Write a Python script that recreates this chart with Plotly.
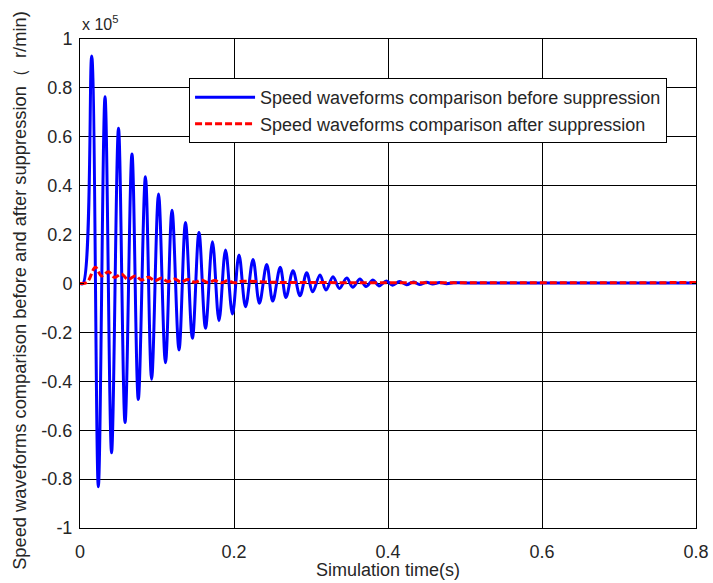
import plotly.graph_objects as go

# Blue: speed before suppression (units of 1e5 r/min) - extrema
blue_t = [0.0, 0.004,
          0.0152, 0.0238, 0.0325, 0.041, 0.050, 0.0585, 0.0675, 0.0757, 0.085, 0.093,
          0.102, 0.111, 0.1195, 0.1286, 0.137, 0.146, 0.1545, 0.163, 0.172, 0.1805,
          0.189, 0.198, 0.2065, 0.215, 0.2247, 0.233, 0.2425, 0.2503, 0.260, 0.2675,
          0.2766, 0.2857, 0.2944, 0.3022, 0.3117, 0.3195, 0.3286, 0.3368, 0.3464, 0.3542,
          0.3636, 0.3714, 0.3805, 0.3883, 0.398, 0.406, 0.415, 0.424, 0.433, 0.441,
          0.450, 0.458, 0.467, 0.476, 0.485, 0.50, 0.55, 0.60, 0.70, 0.80]
blue_v = [0.0, 0.0,
          0.93, -0.831, 0.764, -0.692, 0.635, -0.569, 0.53, -0.474, 0.437, -0.392,
          0.366, -0.324, 0.30, -0.272, 0.249, -0.224, 0.209, -0.183, 0.171, -0.152,
          0.137, -0.125, 0.117, -0.095, 0.098, -0.081, 0.078, -0.072, 0.066, -0.057,
          0.052, -0.05, 0.044, -0.034, 0.035, -0.027, 0.028, -0.02, 0.022, -0.015,
          0.018, -0.012, 0.014, -0.01, 0.01, -0.007, 0.008, -0.005, 0.006, -0.004,
          0.005, -0.002, 0.004, -0.001, 0.003, 0.002, 0.002, 0.002, 0.002, 0.002]

# Red: speed after suppression (units of 1e5 r/min)
red_t = [0.0, 0.009, 0.020, 0.028, 0.037, 0.045, 0.054, 0.062, 0.072, 0.080, 0.089,
         0.097, 0.106, 0.114, 0.123, 0.131, 0.140, 0.149, 0.158, 0.166, 0.175, 0.183,
         0.192, 0.201, 0.210, 0.25, 0.30, 0.40, 0.50, 0.60, 0.70, 0.80]
red_v = [0.0, 0.004, 0.066, 0.031, 0.048, 0.025, 0.039, 0.017, 0.031, 0.014, 0.026,
         0.011, 0.022, 0.008, 0.018, 0.006, 0.016, 0.005, 0.014, 0.004, 0.012, 0.003,
         0.011, 0.003, 0.009, 0.005, 0.004, 0.003, 0.003, 0.003, 0.003, 0.004]

x_ticks = [0, 0.2, 0.4, 0.6, 0.8]
x_labels = ["0", "0.2", "0.4", "0.6", "0.8"]
y_ticks = [-1, -0.8, -0.6, -0.4, -0.2, 0, 0.2, 0.4, 0.6, 0.8, 1]
y_labels = ["-1", "-0.8", "-0.6", "-0.4", "-0.2", "0", "0.2", "0.4", "0.6", "0.8", "1"]

FONT = "Liberation Sans, Arial, sans-serif"
TXT = "#262626"

fig = go.Figure()
fig.add_trace(go.Scatter(x=blue_t, y=blue_v, mode="lines",
                         line=dict(color="#0000ff", width=3, shape="spline", smoothing=1),
                         name="Speed waveforms comparison before suppression"))
fig.add_trace(go.Scatter(x=red_t, y=red_v, mode="lines",
                         line=dict(color="#ff0000", width=3, dash="7px,3px", shape="spline", smoothing=1),
                         name="Speed waveforms comparison after suppression"))

axis_common = dict(showline=True, linecolor="black", linewidth=1, mirror="allticks",
                   ticks="inside", ticklen=4, tickcolor="black", automargin=False,
                   showgrid=True, gridcolor="black", gridwidth=1, zeroline=False,
                   tickfont=dict(family=FONT, size=18, color=TXT))

fig.update_xaxes(range=[0, 0.8], tickvals=x_ticks, ticktext=x_labels, ticklabelstandoff=7,
                 ticklabeloverflow="allow", **axis_common)
fig.update_yaxes(range=[-1, 1], tickvals=y_ticks, ticktext=y_labels, ticklabelstandoff=3,
                 **axis_common)

fig.add_annotation(text="Simulation time(s)", xref="paper", yref="paper", x=0.5, y=-0.086,
                   xanchor="center", yanchor="middle", showarrow=False,
                   font=dict(family=FONT, size=18, color=TXT))
fig.add_annotation(text="Speed waveforms comparison before and after suppression（  r/min)",
                   xref="paper", yref="paper", x=-0.0974, y=0.485, xanchor="center", yanchor="middle",
                   textangle=-90, showarrow=False, font=dict(family=FONT, size=18.3, color=TXT))
fig.add_annotation(text="x 10<sup>5</sup>", xref="paper", yref="paper", x=0.0, y=1.0,
                   xanchor="left", yanchor="bottom", yshift=4, showarrow=False,
                   font=dict(family=FONT, size=16, color=TXT))

fig.update_layout(width=713, height=583, margin=dict(l=80, r=17, t=39, b=55),
                  plot_bgcolor="white", paper_bgcolor="white",
                  font=dict(family=FONT, color=TXT),
                  legend=dict(x=0.953, y=0.92, xanchor="right", yanchor="top",
                              bgcolor="white", bordercolor="black", borderwidth=1,
                              font=dict(family=FONT, size=18, color=TXT),
                              tracegroupgap=0, itemwidth=60))

# remove the default 8px page margin so the figure fills the window exactly
fig.write_html("out.html", config={"displayModeBar": False},
               post_script="document.body.style.margin='0px';document.body.style.overflow='hidden';")
